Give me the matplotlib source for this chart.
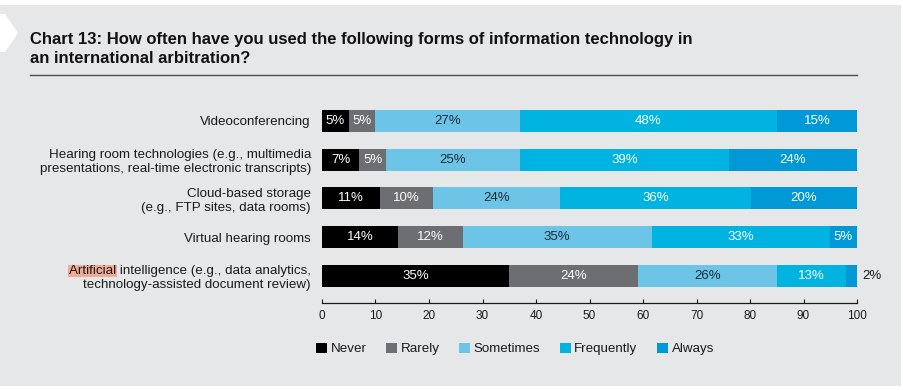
import numpy as np
import matplotlib
matplotlib.use("Agg")
import matplotlib.pyplot as plt
from matplotlib.patches import Rectangle, Polygon
from matplotlib.transforms import IdentityTransform

plt.rcParams['font.family'] = ['Liberation Sans', 'DejaVu Sans']

# data
categories = [
    "Videoconferencing",
    "Hearing room technologies (e.g., multimedia\npresentations, real-time electronic transcripts)",
    "Cloud-based storage\n(e.g., FTP sites, data rooms)",
    "Virtual hearing rooms",
    "Artificial intelligence (e.g., data analytics,\ntechnology-assisted document review)",
]
series_names = ["Never", "Rarely", "Sometimes", "Frequently", "Always"]
never = [5, 7, 11, 14, 35]
rarely = [5, 5, 10, 12, 24]
sometimes = [27, 25, 24, 35, 26]
frequently = [48, 39, 36, 33, 13]
always = [15, 24, 20, 5, 2]
x_ticks = [0, 10, 20, 30, 40, 50, 60, 70, 80, 90, 100]

colors = ["#000000", "#6d6e71", "#6cc5e6", "#00b3e0", "#0098d6"]
text_colors = ["white", "white", "#1c2a3a", "white", "white"]
bg = "#e6e7e8"
dark = "#1a1a1a"

W, H = 904, 390
fig = plt.figure(figsize=(W / 100, H / 100), dpi=100, facecolor="white")

# grey panel and white arrow marker
fig.patches.append(Rectangle((0, 4 / H), 901 / W, 381 / H, transform=fig.transFigure,
                             facecolor=bg, edgecolor="none", zorder=-10))
arrow = [(0, 14), (5, 14), (18, 33), (5, 52), (0, 52)]
fig.patches.append(Polygon([(x / W, 1 - y / H) for x, y in arrow], closed=True,
                           transform=fig.transFigure, facecolor="white",
                           edgecolor="none", zorder=-9))

fig.text(30 / W, 1 - 32 / H,
         "Chart 13: How often have you used the following forms of information technology in\n"
         "an international arbitration?",
         fontsize=12, fontweight="bold", va="top", ha="left", linespacing=1.3,
         color="#111111")
fig.add_artist(plt.Line2D([30 / W, 857 / W], [1 - 75 / H, 1 - 75 / H],
                          transform=fig.transFigure, color="#4d4d4d", lw=1.0))

ax = fig.add_axes([322 / W, 1 - 303 / H, 535 / W, (303 - 101.6) / H])
ax.set_facecolor("none")

data = np.array([never, rarely, sometimes, frequently, always], dtype=float)
totals = data.sum(axis=0)
widths = data / totals * 100
y = np.arange(len(categories))
left = np.zeros(len(categories))
for i, name in enumerate(series_names):
    ax.barh(y, widths[i], left=left, height=0.57, color=colors[i], label=name,
            edgecolor="none")
    for j in range(len(categories)):
        val = data[i, j]
        if widths[i, j] >= 4:
            ax.text(left[j] + widths[i, j] / 2, y[j], f"{int(val)}%", ha="center",
                    va="center", color=text_colors[i], fontsize=9.5)
        else:
            ax.text(101, y[j], f"{int(val)}%", ha="left", va="center",
                    color=dark, fontsize=9.5, clip_on=False)
    left += widths[i]

ax.set_xlim(0, 100)
ax.set_ylim(4.70, -0.5)
ax.set_xticks(x_ticks)
ax.set_xticklabels([str(t) for t in x_ticks], fontsize=8.5, color=dark)
ax.set_yticks(y)
ax.set_yticklabels(categories, fontsize=9.6, color=dark, multialignment="right",
                   linespacing=1.2)
ax.tick_params(axis="y", length=0, pad=8)
ax.tick_params(axis="x", direction="in", length=3, width=0.8, color=dark, pad=5)
for s in ["top", "right", "left"]:
    ax.spines[s].set_visible(False)
ax.spines["bottom"].set_color(dark)
ax.spines["bottom"].set_linewidth(0.9)

leg = fig.legend(loc="center left", bbox_to_anchor=(316 / W, 1 - 349 / H), ncol=5,
                 frameon=False, fontsize=9.6, handlelength=0.85, handleheight=0.85,
                 handletextpad=0.25, columnspacing=1.45, borderaxespad=0, borderpad=0)
for t in leg.get_texts():
    t.set_color(dark)

# highlight on "Artificial"
fig.canvas.draw()
r = fig.canvas.get_renderer()
lab = ax.get_yticklabels()[-1]
bb = lab.get_window_extent(r)
tmp = fig.text(0, 0, "Artificial", fontsize=9.6)
wbb = tmp.get_window_extent(r)
tmp.remove()
line_h = wbb.height
fig.patches.append(Rectangle((bb.x0 - 1, bb.y1 - line_h), wbb.width + 2, line_h,
                             transform=IdentityTransform(), facecolor="#eeab95",
                             edgecolor="none", zorder=-5))

fig.savefig("out.png", dpi=100, facecolor=fig.get_facecolor())
